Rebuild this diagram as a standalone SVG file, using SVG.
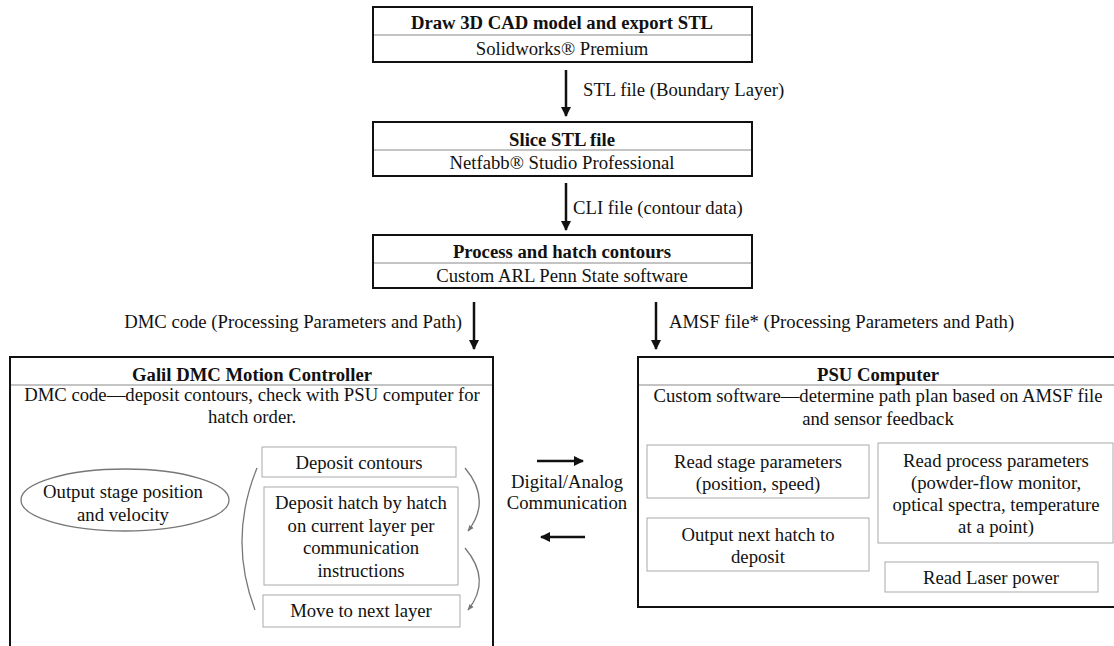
<svg xmlns="http://www.w3.org/2000/svg" width="1114" height="646" viewBox="0 0 1114 646">
<style>
text{font-family:"Liberation Serif","Times New Roman",serif;font-size:18.7px;fill:#111}
.t{font-weight:bold}
.c{text-anchor:middle}
.box{fill:#fff;stroke:#111;stroke-width:2}
.div{stroke:#888;stroke-width:1}
.in{fill:#fff;stroke:#aaa;stroke-width:1}
.arr{stroke:#111;stroke-width:2.5;fill:none}
.cur{stroke:#777;stroke-width:1.3;fill:none}
</style>
<defs>
<marker id="ah" viewBox="0 0 10 10" refX="9" refY="5" markerWidth="4" markerHeight="4" orient="auto" markerUnits="strokeWidth"><path d="M0,0 L10,5 L0,10 z" fill="#111"/></marker>
<marker id="ahs" viewBox="0 0 10 10" refX="9" refY="5" markerWidth="5" markerHeight="5" orient="auto" markerUnits="strokeWidth"><path d="M0,1 L10,5 L0,9 z" fill="#777"/></marker>
</defs>
<rect width="1114" height="646" fill="#fff"/>

<g id="n1">
<rect class="box" x="373" y="7" width="379" height="55"/>
<line class="div" x1="374" y1="35" x2="751" y2="35"/>
<text class="t c" x="562" y="29">Draw 3D CAD model and export STL</text>
<text class="c" x="562" y="55">Solidworks® Premium</text>
</g>
<g id="n2">
<rect class="box" x="373" y="122" width="379" height="54"/>
<line class="div" x1="374" y1="150" x2="751" y2="150"/>
<text class="t c" x="562" y="146">Slice STL file</text>
<text class="c" x="562" y="169">Netfabb® Studio Professional</text>
</g>
<g id="n3">
<rect class="box" x="373" y="235" width="379" height="53"/>
<line class="div" x1="374" y1="263" x2="751" y2="263"/>
<text class="t c" x="562" y="258">Process and hatch contours</text>
<text class="c" x="562" y="282">Custom ARL Penn State software</text>
</g>

<g id="galil">
<rect class="box" x="10" y="357" width="483" height="300"/>
<line class="div" x1="11" y1="385" x2="492" y2="385"/>
<text class="t c" x="252" y="381">Galil DMC Motion Controller</text>
<text class="c" x="252" y="401">DMC code—deposit contours, check with PSU computer for</text>
<text class="c" x="252" y="423">hatch order.</text>
</g>
<g id="oval">
<ellipse cx="125" cy="500" rx="104" ry="31" fill="#fff" stroke="#777" stroke-width="1.3"/>
<text class="c" x="123" y="498">Output stage position</text>
<text class="c" x="123" y="521">and velocity</text>
</g>
<g id="dep1">
<rect class="in" x="262" y="447" width="194" height="30"/>
<text class="c" x="359" y="469">Deposit contours</text>
</g>
<g id="dep2">
<rect class="in" x="264" y="487" width="194" height="98"/>
<text class="c" x="361" y="509">Deposit hatch by hatch</text>
<text class="c" x="361" y="532">on current layer per</text>
<text class="c" x="361" y="554">communication</text>
<text class="c" x="361" y="577">instructions</text>
</g>
<g id="dep3">
<rect class="in" x="263" y="595" width="197" height="32"/>
<text class="c" x="361" y="617">Move to next layer</text>
</g>

<g id="psu">
<rect class="box" x="638" y="357" width="480" height="250"/>
<line class="div" x1="639" y1="385" x2="1114" y2="385"/>
<text class="t c" x="878" y="381">PSU Computer</text>
<text class="c" x="878" y="402">Custom software—determine path plan based on AMSF file</text>
<text class="c" x="878" y="425">and sensor feedback</text>
</g>
<g id="ps1">
<rect class="in" x="647" y="445" width="222" height="53"/>
<text class="c" x="758" y="468">Read stage parameters</text>
<text class="c" x="758" y="490">(position, speed)</text>
</g>
<g id="ps2">
<rect class="in" x="647" y="518" width="222" height="53"/>
<text class="c" x="758" y="541">Output next hatch to</text>
<text class="c" x="758" y="563">deposit</text>
</g>
<g id="ps3">
<rect class="in" x="878" y="443" width="235" height="100"/>
<text class="c" x="996" y="467">Read process parameters</text>
<text class="c" x="996" y="489">(powder-flow monitor,</text>
<text class="c" x="996" y="511">optical spectra, temperature</text>
<text class="c" x="996" y="533">at a point)</text>
</g>
<g id="ps4">
<rect class="in" x="885" y="562" width="213" height="30"/>
<text class="c" x="991" y="584">Read Laser power</text>
</g>

<g id="comm">
<text class="c" x="567" y="488">Digital/Analog</text>
<text class="c" x="567" y="509">Communication</text>
</g>

<g id="connectors">
<line class="arr" x1="566" y1="70" x2="566" y2="116" marker-end="url(#ah)"/>
<text x="583" y="96">STL file (Boundary Layer)</text>
<line class="arr" x1="566" y1="183" x2="566" y2="230" marker-end="url(#ah)"/>
<text x="573" y="214">CLI file (contour data)</text>
<line class="arr" x1="474" y1="302" x2="474" y2="349" marker-end="url(#ah)"/>
<text x="462" y="328" text-anchor="end">DMC code (Processing Parameters and Path)</text>
<line class="arr" x1="656" y1="302" x2="656" y2="349" marker-end="url(#ah)"/>
<text x="669" y="328">AMSF file* (Processing Parameters and Path)</text>
<line class="arr" x1="537" y1="461" x2="583" y2="461" marker-end="url(#ah)"/>
<line class="arr" x1="585" y1="537" x2="541" y2="537" marker-end="url(#ah)"/>
<path class="cur" d="M257,468 Q228,539 255,610"/>
<path class="cur" d="M465,468 Q492,500 468,531" marker-end="url(#ahs)"/>
<path class="cur" d="M465,548 Q492,580 468,610" marker-end="url(#ahs)"/>
</g>
</svg>
